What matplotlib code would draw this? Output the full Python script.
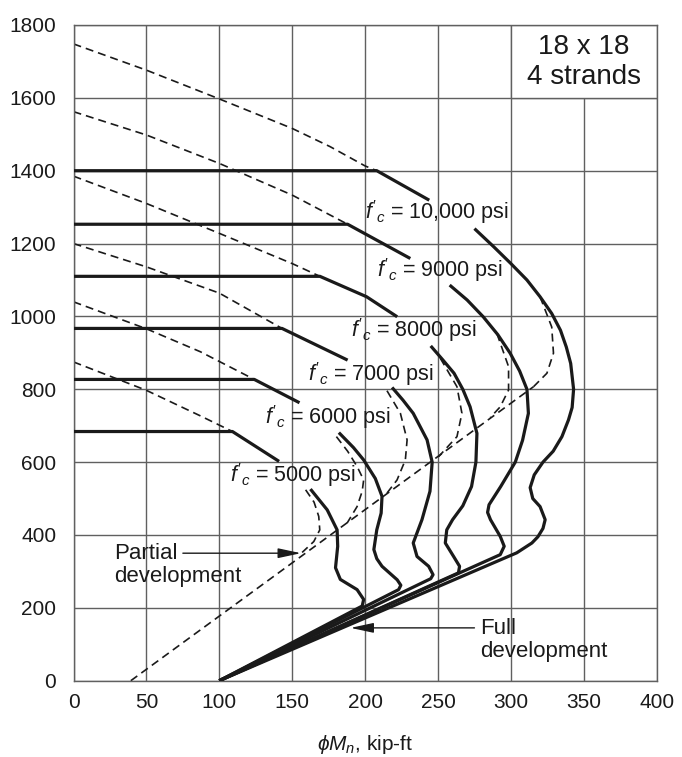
import matplotlib
matplotlib.use('Agg')
import matplotlib.pyplot as plt
from matplotlib.patches import Rectangle

plt.rcParams['font.family'] = ['Liberation Sans', 'DejaVu Sans']
plt.rcParams['mathtext.fontset'] = 'custom'
plt.rcParams['mathtext.rm'] = 'Liberation Sans'
plt.rcParams['mathtext.it'] = 'Liberation Sans:italic'

# concrete strengths (psi) and the label for each
strengths = [10000, 9000, 8000, 7000, 6000, 5000]
labels = ["$f'_c$ = 10,000 psi", "$f'_c$ = 9000 psi", "$f'_c$ = 8000 psi",
          "$f'_c$ = 7000 psi", "$f'_c$ = 6000 psi", "$f'_c$ = 5000 psi"]
label_x = [200, 208, 190, 161, 131, 107]
label_y = [1287, 1126, 962, 843, 725, 565]

# capped (max axial) part: flat line then short sloping segment
cap_x = {10000: [0, 208, 244], 9000: [0, 188, 231], 8000: [0, 169, 201, 222],
         7000: [0, 143, 188], 6000: [0, 124, 155], 5000: [0, 109, 141]}
cap_y = {10000: [1400, 1400, 1319], 9000: [1253, 1253, 1159], 8000: [1110, 1110, 1054, 999],
         7000: [967, 967, 880], 6000: [827, 827, 763], 5000: [684, 684, 602]}

# dashed continuation of the cap lines (partial development)
ext_x = {10000: [0, 50, 100, 150, 176, 200, 208], 9000: [0, 50, 100, 150, 188],
         8000: [0, 50, 100, 150, 169], 7000: [0, 50, 100, 143],
         6000: [0, 50, 87, 124], 5000: [0, 50, 87, 109]}
ext_y = {10000: [1748, 1676, 1597, 1516, 1466, 1413, 1400], 9000: [1562, 1498, 1420, 1333, 1253],
         8000: [1385, 1310, 1228, 1145, 1110], 7000: [1200, 1136, 1064, 967],
         6000: [1040, 966, 903, 827], 5000: [875, 797, 727, 684]}

# full development curves (solid)
full_x = {
    10000: [275, 288, 300, 311, 320, 328, 334, 338, 341, 343, 342, 339.5, 335, 329, 322, 316,
            313.2, 315, 320, 323.5, 322, 318.5, 314.4, 304, 100],
    9000: [258, 270, 281, 291, 299.5, 306, 311, 312, 308, 303, 293, 285, 284, 286, 292.7, 295.4,
           292.7, 100],
    8000: [245, 253, 261, 267, 272, 276.7, 276, 273, 267, 260, 256, 255, 260.7, 264.8, 264, 100],
    7000: [218.5, 226, 233, 242.5, 246, 244.5, 239, 233, 235.6, 243.6, 246.6, 245, 100],
    6000: [182, 192, 199, 207, 211.6, 211, 208, 206, 208, 211.6, 222, 224.5, 223, 100],
    5000: [162.5, 174, 180.8, 181.2, 179.7, 183, 194.5, 199, 198, 100],
}
full_y = {
    10000: [1241, 1192, 1145, 1100, 1054, 1008, 962, 916, 871, 800, 750, 716, 670, 630, 600, 565,
            530, 500, 478, 442, 418, 395, 378, 351, 0],
    9000: [1086, 1045, 999, 950, 899, 850, 800, 734, 660, 600, 533, 483, 462, 442, 396, 369,
           346, 0],
    8000: [919, 882, 844, 800, 752, 679, 600, 533, 480, 442, 414, 378, 341, 314, 296, 0],
    7000: [805, 770, 734, 661, 600, 520, 442, 378, 341, 314, 291, 280, 0],
    6000: [681, 640, 606, 555, 506, 460, 414, 360, 335, 314, 277, 262, 250, 0],
    5000: [526, 469, 414, 369, 310, 278, 250, 223, 205, 0],
}

# partial development curves (dashed) and the line they join
part_x = {10000: [320, 328, 329.2, 324.7, 315.5], 9000: [290.4, 298.4, 298.4, 292.7, 285.8],
          8000: [251.6, 263, 266.4, 263, 250.4], 7000: [215, 224.2, 228.8, 227.6, 221.9, 215],
          6000: [180.3, 188, 194.5, 199, 198, 194.5, 187.7],
          5000: [159.2, 165, 168.2, 168.9, 164.8, 156.8]}
part_y = {10000: [1054, 971, 899, 844, 807], 9000: [953, 862, 798, 752, 722],
          8000: [885, 807, 734, 670, 615], 7000: [796, 734, 661, 606, 551, 515],
          6000: [670, 630, 588, 551, 520, 478, 433],
          5000: [524, 490, 451, 414, 382, 352]}
diag_x = [39.3, 315.5]
diag_y = [0, 807]

fig = plt.figure(figsize=(6.82, 7.57), dpi=100)
ax = fig.add_axes([0.1078, 0.1008, 0.8551, 0.8662])

solid = dict(color='#1a1a1a', lw=2.3, solid_capstyle='butt', solid_joinstyle='round', zorder=3)
dashed = dict(color='#1a1a1a', lw=1.2, dashes=(4.8, 3.0), zorder=2)

for fc in strengths:
    ax.plot(cap_x[fc], cap_y[fc], **solid)
    ax.plot(ext_x[fc], ext_y[fc], **dashed)
    ax.plot(full_x[fc], full_y[fc], **solid)
    ax.plot(part_x[fc], part_y[fc], **dashed)
ax.plot(diag_x, diag_y, **dashed)

for txt, x, y in zip(labels, label_x, label_y):
    ax.text(x, y, txt, fontsize=15.5, ha='left', va='center', color='#1a1a1a', zorder=4)

# box with section description
ax.add_patch(Rectangle((300, 1600), 100, 200, facecolor='white', edgecolor='#606060',
                       lw=1.0, zorder=1.5))
ax.text(350, 1739, '18 x 18', fontsize=20, ha='center', va='center', color='#1a1a1a', zorder=4)
ax.text(350, 1656, '4 strands', fontsize=20, ha='center', va='center', color='#1a1a1a', zorder=4)

# arrows with notes
arrow = dict(arrowstyle='-|>,head_length=1.4,head_width=0.3', color='#1a1a1a', lw=1.0,
             mutation_scale=10, shrinkA=0, shrinkB=0)
ax.text(28, 350, 'Partial', fontsize=16, ha='left', va='center', color='#1a1a1a')
ax.text(28, 286, 'development', fontsize=16, ha='left', va='center', color='#1a1a1a')
ax.annotate('', xy=(156, 350), xytext=(75, 350), arrowprops=arrow, zorder=4)
ax.text(279, 144, 'Full', fontsize=16, ha='left', va='center', color='#1a1a1a')
ax.text(279, 80, 'development', fontsize=16, ha='left', va='center', color='#1a1a1a')
ax.annotate('', xy=(190, 145), xytext=(275, 145), arrowprops=arrow, zorder=4)

ax.set_xlim(0, 400)
ax.set_ylim(0, 1800)
ax.set_xticks(range(0, 401, 50))
ax.set_yticks(range(0, 1801, 200))
ax.tick_params(axis='both', length=0, labelsize=15, colors='#1a1a1a')
ax.tick_params(axis='x', pad=9)
ax.tick_params(axis='y', pad=12.5)
ax.grid(True, color='#606060', lw=1.0)
ax.set_axisbelow(True)
for sp in ax.spines.values():
    sp.set_color('#606060')
    sp.set_linewidth(1.0)

ax.set_xlabel(r'$\phi M_n$, kip-ft', fontsize=15, color='#1a1a1a', labelpad=15)

plt.savefig('out.png', dpi=100)
